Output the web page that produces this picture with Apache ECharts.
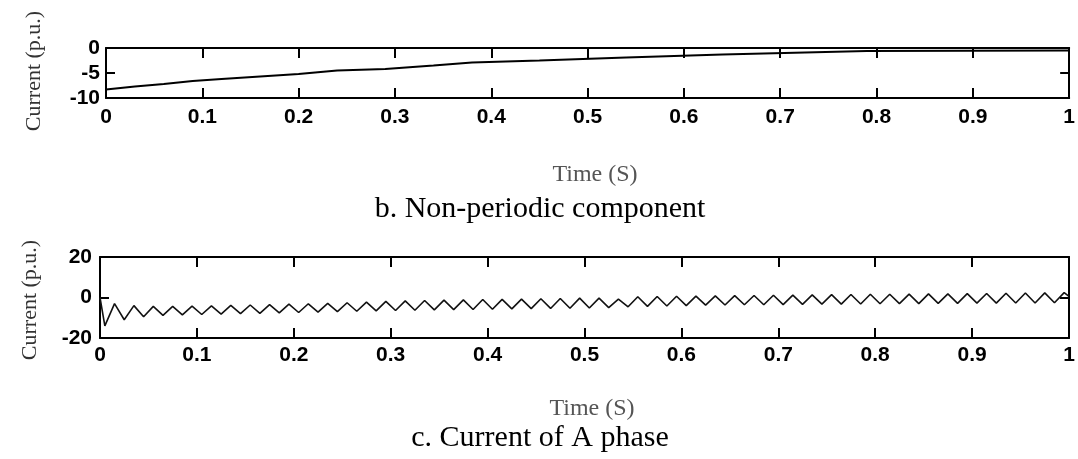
<!DOCTYPE html>
<html>
<head>
<meta charset="utf-8">
<script src="https://cdn.jsdelivr.net/npm/echarts@6/dist/echarts.min.js"></script>
<style>
html,body{margin:0;padding:0;background:#fff;}
#chart{width:1078px;height:459px;}
</style>
</head>
<body>
<div id="chart"></div>
<script>
// Non-periodic component (top panel)
var dcTime  = [0, 0.03, 0.06, 0.09, 0.12, 0.16, 0.2, 0.24, 0.29, 0.34, 0.38, 0.45, 0.54, 0.64, 0.79, 1.0];
var dcValue = [-8.3, -7.7, -7.2, -6.6, -6.2, -5.7, -5.2, -4.5, -4.2, -3.5, -2.9, -2.5, -1.9, -1.3, -0.6, -0.5];

// Current of A phase (bottom panel)
var phaseTime = [0, 0.005, 0.015, 0.025, 0.035, 0.045, 0.055, 0.065, 0.075, 0.085, 0.095,
  0.105, 0.115, 0.125, 0.135, 0.145, 0.155, 0.165, 0.175, 0.185, 0.195,
  0.205, 0.215, 0.225, 0.235, 0.245, 0.255, 0.265, 0.275, 0.285, 0.295,
  0.305, 0.315, 0.325, 0.335, 0.345, 0.355, 0.365, 0.375, 0.385, 0.395,
  0.405, 0.415, 0.425, 0.435, 0.445, 0.455, 0.465, 0.475, 0.485, 0.495,
  0.505, 0.515, 0.525, 0.535, 0.545, 0.555, 0.565, 0.575, 0.585, 0.595,
  0.605, 0.615, 0.625, 0.635, 0.645, 0.655, 0.665, 0.675, 0.685, 0.695,
  0.705, 0.715, 0.725, 0.735, 0.745, 0.755, 0.765, 0.775, 0.785, 0.795,
  0.805, 0.815, 0.825, 0.835, 0.845, 0.855, 0.865, 0.875, 0.885, 0.895,
  0.905, 0.915, 0.925, 0.935, 0.945, 0.955, 0.965, 0.975, 0.985, 0.995, 1];
var phaseCurrent = [0,
  -14, -3.0, -11, -4.0, -9.5, -4.4, -8.8, -4.4, -8.6, -4.3,
  -8.4, -4.1, -8.2, -3.9, -8.0, -3.7, -7.8, -3.5, -7.6, -3.3,
  -7.4, -3.1, -7.2, -2.9, -7.0, -2.6, -6.8, -2.3, -6.6, -1.9,
  -6.4, -1.7, -6.3, -1.5, -6.1, -1.3, -6.0, -1.2, -5.9, -1.0,
  -5.8, -0.9, -5.6, -0.8, -5.5, -0.6, -5.4, -0.5, -5.3, -0.3,
  -5.2, -0.3, -5.0, -0.8, -4.6, 0.4, -4.4, 0.5, -4.2, 0.6,
  -4.0, 0.7, -3.8, 0.8, -3.7, 0.9, -3.6, 1.0, -3.6, 1.1,
  -3.5, 1.2, -3.4, 1.3, -3.3, 1.4, -3.3, 1.5, -3.2, 1.6,
  -3.1, 1.6, -3.0, 1.7, -3.0, 1.8, -2.9, 1.8, -2.9, 1.9,
  -2.8, 2.0, -2.8, 2.1, -2.7, 2.2, -2.7, 2.3, -2.6, 2.4, 0.5];

var xLabel = 'Time (S)';
var yLabel = 'Current (p.u.)';
var captionTop = 'b. Non-periodic component';
var captionBottom = 'c. Current of A phase';

function pairs(xs, ys){ return xs.map(function(x,i){ return [x, ys[i]]; }); }

var lineStyle = {color:'#000', width:2};
var labelFont = {fontFamily:'Liberation Sans', fontWeight:'bold', fontSize:21, color:'#000'};

function xAxisDef(grid, pos, show, margin){
  return {
    type:'value', gridIndex:grid, position:pos, min:0, max:1, interval:0.1,
    axisLine:{show:true, onZero:false, lineStyle:lineStyle},
    axisTick:{show:true, inside:true, length:10, lineStyle:lineStyle},
    axisLabel: show ? Object.assign({show:true, margin:margin}, labelFont) : {show:false},
    splitLine:{show:false}
  };
}
function yAxisDef(grid, pos, min, max, interval, show, margin){
  return {
    type:'value', gridIndex:grid, position:pos, min:min, max:max, interval:interval,
    axisLine:{show:true, onZero:false, lineStyle:lineStyle},
    axisTick:{show:true, inside:true, length:9, lineStyle:lineStyle},
    axisLabel: show ? Object.assign({show:true, margin:margin}, labelFont) : {show:false},
    splitLine:{show:false}
  };
}

var chart = echarts.init(document.getElementById('chart'), null, {renderer:'canvas'});
chart.setOption({
  animation:false,
  backgroundColor:'#fff',
  grid:[
    {left:106, top:48, width:965, height:50},
    {left:100, top:257, width:969, height:81}
  ],
  xAxis:[
    xAxisDef(0,'bottom',true,9),
    xAxisDef(0,'top',false,9),
    xAxisDef(1,'bottom',true,7),
    xAxisDef(1,'top',false,7)
  ],
  yAxis:[
    yAxisDef(0,'left',-10,0,5,true,6),
    yAxisDef(0,'right',-10,0,5,false,6),
    yAxisDef(1,'left',-20,20,20,true,8),
    yAxisDef(1,'right',-20,20,20,false,8)
  ],
  series:[
    {type:'line', xAxisIndex:0, yAxisIndex:0, data:pairs(dcTime, dcValue),
     showSymbol:false, lineStyle:{color:'#000', width:2}},
    {type:'line', xAxisIndex:2, yAxisIndex:2, data:pairs(phaseTime, phaseCurrent),
     showSymbol:false, lineStyle:{color:'#111', width:1.6}}
  ],
  graphic:[
    {type:'text', x:34, y:71, rotation:Math.PI/2,
     style:{text:yLabel, font:'22px "Liberation Serif"', fill:'#333', textAlign:'center', textVerticalAlign:'middle'}},
    {type:'text', x:30, y:300, rotation:Math.PI/2,
     style:{text:yLabel, font:'22px "Liberation Serif"', fill:'#333', textAlign:'center', textVerticalAlign:'middle'}},
    {type:'text', x:595, y:175,
     style:{text:xLabel, font:'24px "Liberation Serif"', fill:'#555', textAlign:'center', textVerticalAlign:'middle'}},
    {type:'text', x:592, y:409,
     style:{text:xLabel, font:'24px "Liberation Serif"', fill:'#555', textAlign:'center', textVerticalAlign:'middle'}},
    {type:'text', x:540, y:209,
     style:{text:captionTop, font:'30px "Liberation Serif"', fill:'#000', textAlign:'center', textVerticalAlign:'middle'}},
    {type:'text', x:540, y:438,
     style:{text:captionBottom, font:'30px "Liberation Serif"', fill:'#000', textAlign:'center', textVerticalAlign:'middle'}}
  ]
});
</script>
</body>
</html>
